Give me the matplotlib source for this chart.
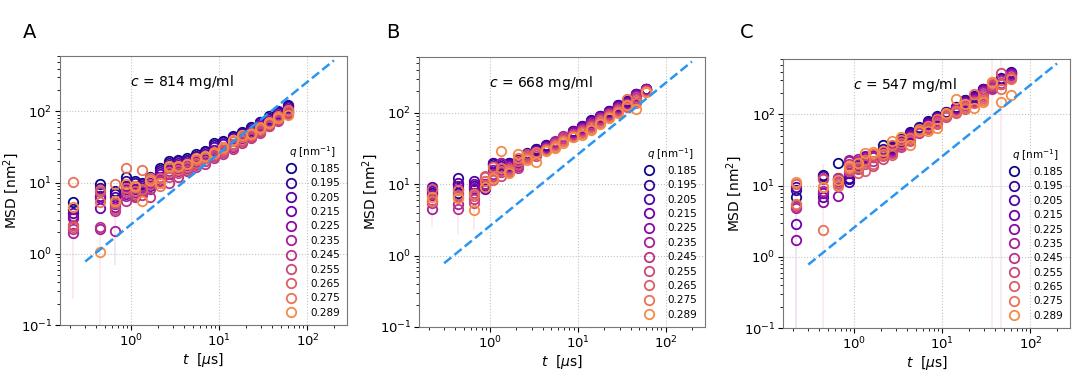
import numpy as np
import matplotlib
matplotlib.use("Agg")
import matplotlib.pyplot as plt

# lag times [us], same for all three samples
t = [0.218, 0.436, 0.654, 0.872, 1.09, 1.32, 1.65, 2.1, 2.65, 3.38, 4.3,
     5.45, 6.85, 8.75, 11.1, 14.1, 17.9, 22.8, 29.0, 36.8, 46.5, 60.5]

q_labels = ["0.185", "0.195", "0.205", "0.215", "0.225", "0.235",
            "0.245", "0.255", "0.265", "0.275", "0.289"]

conc = ["814", "668", "547"]
panel_letters = ["A", "B", "C"]

# MSD [nm^2], one row per q
msd_814 = [
    [5.4, 9.5, 7.5, 12, 10.5, 10, 12, 16, 20, 21, 22, 25, 28, 36, 38, 45, 52, 60, 72, 85, 102, 122],
    [4.3, 8.5, 7.0, 10.5, 9.8, 9.5, 11.5, 15, 19, 20, 21, 24, 27, 34, 37, 44, 50, 58, 70, 82, 98, 118],
    [3.8, 6.5, 6.2, 9, 9, 9, 11, 14, 17.5, 19, 20, 23, 25.5, 32, 35, 42, 48, 55, 66, 78, 94, 114],
    [3.4, 4.4, 5.0, 8, 8, 8.5, 10, 13, 16, 17.5, 19, 21, 24, 29, 32, 38, 45, 52, 62, 74, 88, 108],
    [3.2, 6.0, 4.5, 7, 7.3, 8, 9, 12, 14.5, 16, 17.5, 19.5, 22, 26, 29, 35, 42, 48, 58, 70, 82, 102],
    [1.95, 2.2, 2.1, 6.5, 6.5, 7.5, 8, 11, 13, 14.5, 16, 18, 20, 24, 27, 32, 39, 45, 53, 65, 78, 97],
    [2.2, 2.4, 4.0, 5.6, 6.2, 6.8, 6.2, 10.5, 10, 12, 14.5, 16.5, 18.5, 22, 25, 30, 36, 42, 50, 62, 74, 92],
    [2.5, 7.3, 4.3, 7.5, 7, 7.8, 9.5, 10, 12, 13.5, 15, 17.5, 20, 24, 27, 33, 38, 44, 52, 63, 76, 95],
    [2.4, 7.8, 5.2, 8.5, 7.5, 8.2, 10.5, 11.5, 14, 15, 16.5, 19, 22, 25, 29, 35, 40, 46, 55, 66, 80, 100],
    [10.3, 5.4, 9.5, 16, 8.8, 15, 11.5, 9, 16, 16.5, 18, 21, 23, 27, 31, 38, 44, 50, 60, 70, 85, 104],
    [4.6, 1.07, 5.6, 9.6, 9.0, 5.5, 11, 10, 17, 17, 18, 22, 24, 26, 32, 40, 46, 48, 58, 68, 82, 90],
]

msd_668 = [
    [7.5, 7.5, 8.5, 10, 19, 20, 20, 22, 27, 31, 35, 39, 44, 56, 65, 78, 90, 105, 128, 145, 185, 218],
    [8.5, 12, 9.5, 9.5, 20, 19, 19.5, 22, 26.5, 31, 35, 39, 44, 56, 65, 77, 90, 105, 127, 145, 185, 218],
    [9.2, 10.5, 11.2, 9, 19.5, 18, 19, 21, 26, 30, 34, 38.5, 44, 55, 64, 76, 89, 104, 126, 143, 183, 216],
    [8, 9.5, 10, 8.5, 18, 17, 18.5, 20.5, 25, 29, 33.5, 38, 45, 54, 63, 75, 88, 102, 124, 140, 180, 214],
    [7, 8.5, 8.8, 9.2, 16, 16, 18, 20, 24.5, 28.5, 33, 39, 46, 53, 62, 73, 86, 100, 120, 137, 176, 212],
    [4.5, 5.2, 7.5, 10, 14, 19.5, 17, 18, 24, 28, 32, 40, 47, 51, 60, 70, 84, 98, 117, 133, 170, 210],
    [5.5, 4.5, 6.2, 11, 13, 15, 16, 17, 23, 27, 31, 38, 46, 50, 58, 68, 81, 95, 114, 128, 163, 207],
    [6, 6.5, 5.5, 12.5, 12.5, 13, 15, 19, 26, 25, 31, 36, 44, 48, 56, 66, 78, 92, 110, 124, 155, 204],
    [8.5, 7, 6.8, 13, 11.5, 15.5, 16.5, 21, 25, 26, 30, 35, 42, 47, 54, 63, 75, 89, 106, 120, 145, 200],
    [5.8, 8.3, 7.2, 11, 17.5, 17, 15.5, 23, 23.5, 28, 30.5, 33, 40, 46, 52, 60, 72, 86, 102, 155, 135, 196],
    [6.5, 6.3, 4.4, 9, 12, 29, 14.5, 26, 22, 20.5, 29.5, 32, 38, 45, 49, 58, 70, 84, 98, 130, 112, 192],
]

msd_547 = [
    [6.9, 14, 21, 13, 18, 22, 25, 37, 36, 45, 57, 66, 80, 95, 110, 128, 160, 180, 230, 260, 320, 390],
    [8.6, 13.5, 13, 12.5, 19, 23, 26, 33, 35, 44, 55, 64, 78, 93, 108, 126, 158, 178, 228, 258, 318, 388],
    [9.5, 7, 12.5, 11.2, 20, 24, 26.5, 31, 34, 43, 53, 62, 75, 91, 106, 124, 155, 175, 225, 255, 315, 385],
    [2.9, 7.8, 12, 15, 21, 25, 27, 30, 33, 42, 52, 60, 73, 89, 103, 122, 150, 170, 220, 250, 310, 380],
    [1.75, 5.9, 7.2, 22, 22, 26, 26, 29, 32, 40, 50, 58, 71, 86, 100, 120, 145, 165, 212, 240, 300, 370],
    [4.8, 8.5, 11.5, 23, 24, 24, 25, 28, 31, 38, 48, 56, 69, 83, 97, 118, 140, 160, 205, 232, 280, 360],
    [5.0, 13, 12.8, 20, 22, 22, 22, 27, 30, 36, 46, 55, 66, 80, 94, 115, 135, 155, 195, 228, 265, 320],
    [5.3, 12.5, 11, 16, 17, 20, 19, 24, 29, 35, 44, 57, 64, 77, 92, 110, 128, 150, 180, 255, 380, 340],
    [10.5, 9.5, 10.5, 17, 15, 16, 20, 26, 27, 40, 42, 59, 62, 74, 96, 106, 118, 145, 170, 270, 270, 330],
    [5.5, 2.4, 10, 18, 18.5, 23, 28, 28, 37, 44, 46, 62, 68, 85, 100, 112, 125, 195, 160, 285, 230, 310],
    [11.3, 9.6, 12, 19, 20.5, 29, 30, 31, 43, 48, 37, 58, 58, 65, 105, 165, 140, 122, 150, 290, 150, 190],
]

# visible error bars: (q index, t index, lower, upper)
err_814 = [(7, 0, 0.23, 4.0), (8, 1, 0.05, 2.0), (5, 2, 0.7, 3.5)]
err_668 = [(7, 0, 2.5, 9.0), (8, 1, 2.0, 9.0), (7, 2, 2.3, 8.0)]
err_547 = [(4, 0, 0.05, 4.0), (8, 1, 0.05, 20), (8, 19, 0.05, 900), (7, 20, 0.05, 900)]

# reference line slope 1
ref_t = [0.3, 200]
ref_msd = [0.78, 520]

all_msd = [msd_814, msd_668, msd_547]
all_err = [err_814, err_668, err_547]

colors = plt.cm.plasma(np.linspace(0.0, 0.72, len(q_labels)))

fig = plt.figure(figsize=(10.79, 3.86), dpi=100)
positions = [
    [0.0556, 0.158, 0.266, 0.697],
    [0.3883, 0.153, 0.265, 0.699],
    [0.7257, 0.150, 0.266, 0.697],
]
letter_x = [0.027, 0.364, 0.692]

for p in range(3):
    ax = fig.add_axes(positions[p])
    msd = all_msd[p]

    for (qi, ti, lo, hi) in all_err[p]:
        ax.vlines(t[ti], lo, hi, color=colors[qi], alpha=0.13, lw=1.2, zorder=1)

    for i, lab in enumerate(q_labels):
        ax.plot(t, msd[i], "o", mfc="none", mec=colors[i], ms=6.8, mew=1.3,
                label=lab, zorder=2)

    ax.plot(ref_t, ref_msd, "--", color="#2b95f2", lw=1.8, zorder=3)

    ax.set_xscale("log")
    ax.set_yscale("log")
    ax.set_ylim(0.1, 600)
    ax.grid(True, which="major", ls=":", color="#c4c4c4", lw=0.8)
    for s in ax.spines.values():
        s.set_color("#777777")
    ax.tick_params(labelsize=9.5, pad=2)

    ax.set_xlabel(r"$t$  [$\mu$s]", fontsize=10, labelpad=1)
    ax.set_ylabel(r"MSD [nm$^2$]", fontsize=10, labelpad=0)

    ax.text(0.245, 0.905, r"$c$ = " + conc[p] + " mg/ml", transform=ax.transAxes,
            fontsize=10, va="center")

    leg = ax.legend(title=r"$q$ [nm$^{-1}$]", loc="lower right", fontsize=7.5,
                    title_fontsize=7.5, frameon=False, handletextpad=1.2,
                    labelspacing=0.42, borderaxespad=0.3, handlelength=1.2)

    fig.text(letter_x[p], 0.915, panel_letters[p], fontsize=14, ha="center", va="center")

fig.savefig("out.png", dpi=100)
